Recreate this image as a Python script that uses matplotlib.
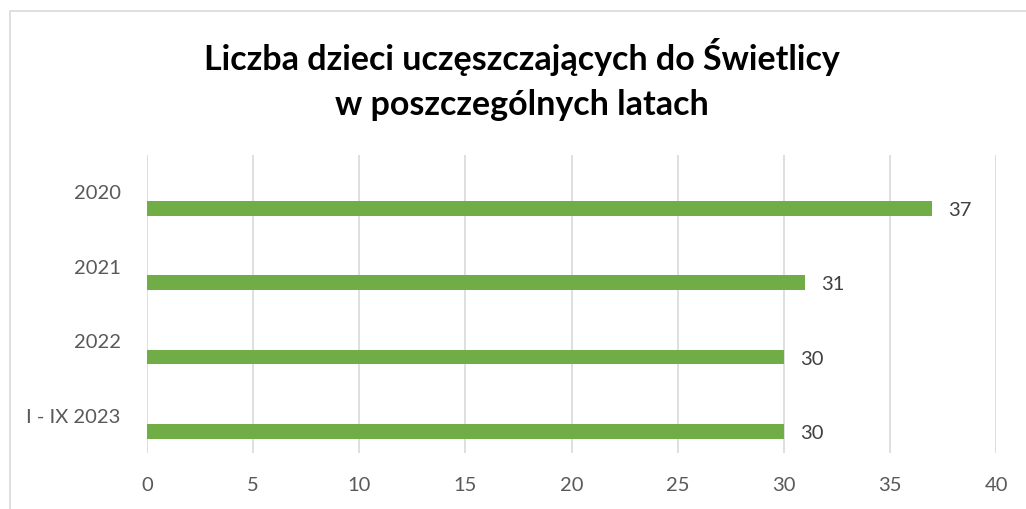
import matplotlib.pyplot as plt
from matplotlib.patches import Rectangle

# dane
lata = ['2020', '2021', '2022', 'I - IX 2023']
liczba_dzieci = [37, 31, 30, 30]

zielony = '#70AD47'
szary_tekst = '#595959'

plt.rcParams['font.family'] = ['Lato', 'DejaVu Sans']

fig = plt.figure(figsize=(10.26, 5.09), dpi=100)
ax = fig.add_axes([0.1433, 0.110, 0.8275, 0.585])

# ramka wykresu
fig.patches.append(Rectangle((10 / 1026, -0.05), 1.1, 1 - 11 / 509 + 0.05,
                             transform=fig.transFigure, fill=False,
                             edgecolor='#D9D9D9', linewidth=1.2))

pozycje = list(range(len(lata)))
przesuniecie = 0.21
ax.barh([p + przesuniecie for p in pozycje], liczba_dzieci, height=0.2,
        color=zielony, zorder=3)

for p, v in zip(pozycje, liczba_dzieci):
    ax.text(v + 0.75, p + przesuniecie + 0.03, str(v), va='center', ha='left',
            fontsize=14.5, color='#404040')

ax.set_xlim(0, 40)
ax.set_ylim(3.5, -0.5)
ax.set_xticks(range(0, 41, 5))
ax.set_yticks(pozycje)
ax.set_yticklabels(lata)
ax.tick_params(axis='both', length=0, labelsize=14.5, labelcolor=szary_tekst)
ax.tick_params(axis='x', pad=17)
ax.tick_params(axis='y', pad=19)
ax.grid(axis='x', color='#D9D9D9', linewidth=1.2, zorder=0)
for s in ax.spines.values():
    s.set_visible(False)

fig.text(0.509, 0.843, 'Liczba dzieci uczęszczających do Świetlicy\nw poszczególnych latach',
         ha='center', va='center', fontsize=24.5, fontweight='bold', linespacing=1.5,
         color='black')

fig.savefig('out.png', dpi=100)
